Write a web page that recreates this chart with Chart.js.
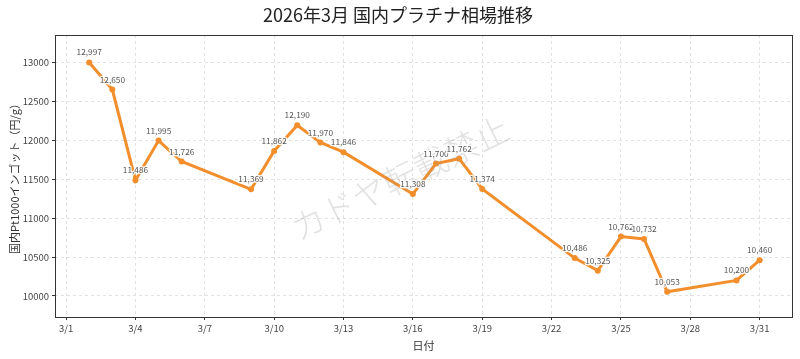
<!DOCTYPE html>
<html>
<head>
<meta charset="utf-8">
<script src="https://cdn.jsdelivr.net/npm/chart.js@4"></script>
<style>
  html, body { margin: 0; padding: 0; background: #fff; }
  #wrap { width: 800px; height: 359px; }
</style>
</head>
<body>
<div id="wrap"><canvas id="chart" width="800" height="359"></canvas></div>
<script>
// --- Data ---
const days = [2, 3, 4, 5, 6, 9, 10, 11, 12, 13, 16, 17, 18, 19, 23, 24, 25, 26, 27, 30, 31];
const prices = [12997, 12650, 11486, 11995, 11726, 11369, 11862, 12190, 11970, 11846,
  11308, 11700, 11762, 11374, 10486, 10325, 10762, 10732, 10053, 10200, 10460];
const xTicks = [1, 4, 7, 10, 13, 16, 19, 22, 25, 28, 31];
const yTicks = [10000, 10500, 11000, 11500, 12000, 12500, 13000];

const FONT = '"Noto Sans CJK JP", "Noto Sans", sans-serif';
const ORANGE = '#f28e2b';

// --- Plugins ---
const frame = {
  id: 'frame',
  afterDatasetsDraw(c) {
    const { ctx } = c;
    // watermark (drawn over the line, very light)
    ctx.save();
    ctx.translate(400, 178);
    ctx.rotate(-26 * Math.PI / 180);
    ctx.font = '300 34px ' + FONT;
    ctx.fillStyle = 'rgba(150,150,150,0.28)';
    ctx.textAlign = 'center';
    ctx.textBaseline = 'middle';
    ctx.fillText('カドヤ転載禁止', 0, 0);
    ctx.restore();
  },
  afterDraw(c) {
    const { ctx, chartArea: a } = c;
    ctx.save();
    ctx.strokeStyle = '#333';
    ctx.lineWidth = 1;
    ctx.strokeRect(a.left + 0.5, a.top + 0.5, a.right - a.left, a.bottom - a.top);
    ctx.restore();
  }
};

const valueLabels = {
  id: 'valueLabels',
  afterDatasetsDraw(c) {
    const { ctx } = c;
    const meta = c.getDatasetMeta(0);
    ctx.save();
    ctx.font = '8.3px ' + FONT;
    ctx.textAlign = 'center';
    ctx.textBaseline = 'bottom';
    ctx.lineJoin = 'round';
    meta.data.forEach((pt, i) => {
      const txt = prices[i].toLocaleString('en-US');
      ctx.strokeStyle = 'rgba(255,255,255,0.9)';
      ctx.lineWidth = 2.5;
      ctx.strokeText(txt, pt.x, pt.y - 6);
      ctx.fillStyle = '#555';
      ctx.fillText(txt, pt.x, pt.y - 6);
    });
    ctx.restore();
  }
};

// --- Chart ---
new Chart(document.getElementById('chart'), {
  type: 'line',
  data: {
    datasets: [{
      data: days.map((d, i) => ({ x: d, y: prices[i] })),
      borderColor: ORANGE,
      backgroundColor: ORANGE,
      borderWidth: 3,
      pointRadius: 3,
      pointBorderWidth: 0,
      pointHoverRadius: 3,
      tension: 0
    }]
  },
  options: {
    responsive: false,
    animation: false,
    layout: { padding: { right: 8, left: 4, bottom: 0 } },
    plugins: {
      legend: { display: false },
      tooltip: { enabled: false },
      title: {
        display: true,
        text: '2026年3月 国内プラチナ相場推移',
        color: '#222',
        font: { family: FONT, size: 18, weight: 'normal' },
        padding: { top: 4, bottom: 9.4 }
      }
    },
    scales: {
      x: {
        type: 'linear',
        min: 0.52,
        max: 32.4,
        afterBuildTicks: s => { s.ticks = xTicks.map(v => ({ value: v })); },
        afterFit: s => { s.height = 42; },
        ticks: {
          color: '#444',
          font: { family: FONT, size: 9.5 },
          padding: 3,
          maxRotation: 0,
          callback: v => '3/' + v
        },
        grid: {
          color: '#e2e2e2',
          borderDash: [3, 3],
          tickColor: '#333',
          tickLength: 3,
          tickBorderDash: [],
        },
        border: { display: false, dash: [3, 3] },
        title: {
          display: true,
          text: '日付',
          color: '#333',
          font: { family: FONT, size: 11 },
          padding: { top: 0, bottom: 7 }
        }
      },
      y: {
        min: 9730,
        max: 13350,
        afterBuildTicks: s => { s.ticks = yTicks.map(v => ({ value: v })); },
        afterFit: s => { s.width = 51; },
        ticks: {
          color: '#444',
          font: { family: FONT, size: 9.5 },
          padding: 3,
          callback: v => String(v)
        },
        grid: {
          color: '#e2e2e2',
          tickColor: '#333',
          tickLength: 3,
        },
        border: { display: false, dash: [3, 3] },
        title: {
          display: true,
          text: '国内Pt1000インゴット（円/g）',
          color: '#333',
          font: { family: FONT, size: 11 },
          padding: { bottom: 2 }
        }
      }
    }
  },
  plugins: [frame, valueLabels]
});
</script>
</body>
</html>
